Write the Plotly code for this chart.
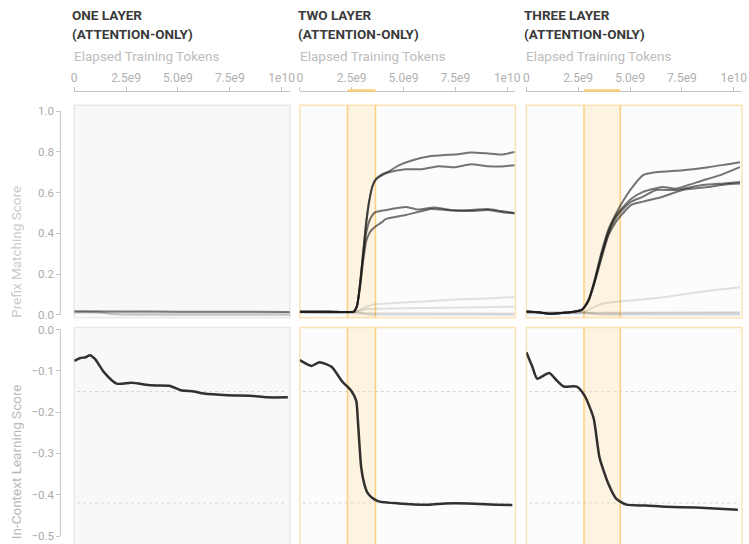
import plotly.graph_objects as go

W, H = 749, 544

# ---------------- data (x in billions of tokens) ----------------
TITLE_LINE1 = ["ONE LAYER", "TWO LAYER", "THREE LAYER"]
TITLE_LINE2 = ["(ATTENTION-ONLY)", "(ATTENTION-ONLY)", "(ATTENTION-ONLY)"]
X_TICKVALS = [0, 2.5e9, 5.0e9, 7.5e9, 1e10]
X_TICKTEXT = ["0", "2.5e9", "5.0e9", "7.5e9", "1e10"]
Y_TOP_TICKVALS = [0, 0.2, 0.4, 0.6, 0.8, 1.0]
Y_TOP_TICKTEXT = ["0.0", "0.2", "0.4", "0.6", "0.8", "1.0"]
Y_BOT_TICKVALS = [0, -0.1, -0.2, -0.3, -0.4, -0.5]
Y_BOT_TICKTEXT = ["0.0", "−0.1", "−0.2", "−0.3", "−0.4", "−0.5"]

# phase-change bands (billions)
BAND_2 = [2.3, 3.65]
BAND_3 = [2.78, 4.53]

# ---- one layer, prefix matching
P1_DARK_X = [0, 2, 4, 6, 8, 10.4]
P1_DARK_Y = [0.017, 0.016, 0.016, 0.015, 0.015, 0.014]
P1_MID_X = [0, 1.2, 1.6, 2.2, 4, 7, 10.4]
P1_MID_Y = [0.013, 0.012, 0.006, 0.001, 0.0, 0.0, 0.0]
P1_FAINT_X = [0, 5, 10.4]
P1_FAINT_Y = [0.01, 0.009, 0.009]

# ---- two layer, prefix matching (induction heads)
P2_RISE_X = [0, 1.0, 2.0, 2.6, 2.75, 2.9, 3.05, 3.2, 3.35, 3.5, 3.67, 3.96]
P2A_Y_RISE = [0.015, 0.015, 0.014, 0.016, 0.04, 0.15, 0.30, 0.45, 0.56, 0.63, 0.667, 0.69]
P2A_X = [4.3, 4.77, 5.4, 6.2, 7.0, 7.5, 8.25, 9.0, 9.7, 10.35]
P2A_Y = [0.705, 0.734, 0.758, 0.778, 0.785, 0.787, 0.797, 0.793, 0.787, 0.80]
P2B_Y_RISE = [0.015, 0.015, 0.014, 0.016, 0.04, 0.15, 0.30, 0.45, 0.56, 0.63, 0.665, 0.685]
P2B_X = [4.3, 5.1, 5.9, 6.68, 7.5, 8.26, 9.07, 9.7, 10.35]
P2B_Y = [0.70, 0.715, 0.715, 0.73, 0.725, 0.739, 0.73, 0.728, 0.734]
P2C_Y_RISE = [0.015, 0.015, 0.014, 0.016, 0.04, 0.14, 0.28, 0.40, 0.46, 0.49, 0.505, 0.512]
P2C_X = [4.3, 5.1, 5.7, 6.5, 7.5, 8.3, 9.07, 9.7, 10.35]
P2C_Y = [0.517, 0.53, 0.517, 0.527, 0.512, 0.515, 0.52, 0.51, 0.50]
P2D_Y_RISE = [0.015, 0.015, 0.014, 0.016, 0.04, 0.13, 0.26, 0.36, 0.40, 0.42, 0.435, 0.455]
P2D_X = [4.14, 5.1, 6.35, 7.0, 7.5, 8.3, 9.07, 9.7, 10.35]
P2D_Y = [0.47, 0.49, 0.52, 0.515, 0.512, 0.51, 0.515, 0.505, 0.498]
P2_F1_X = [0, 2.6, 3.0, 3.5, 4.5, 6, 7.5, 9, 10.35]
P2_F1_Y = [0.012, 0.012, 0.03, 0.05, 0.058, 0.065, 0.075, 0.08, 0.087]
P2_F2_X = [0, 2.6, 3.2, 4, 6, 8, 10.35]
P2_F2_Y = [0.012, 0.012, 0.028, 0.03, 0.033, 0.036, 0.04]
P2_F3_X = [0, 3, 5, 10.35]
P2_F3_Y = [0.01, 0.008, 0.007, 0.006]
P2_F4_X = [0, 2.7, 3.3, 5, 10.35]
P2_F4_Y = [0.015, 0.014, 0.002, 0.0, 0.0]

# ---- three layer, prefix matching
P3_RISE_X = [0, 0.6, 1.1, 1.6, 2.2, 2.67, 3.0, 3.3, 3.63, 3.96, 4.34, 4.67]
P3A_Y_RISE = [0.016, 0.012, 0.005, 0.008, 0.014, 0.024, 0.075, 0.175, 0.31, 0.42, 0.50, 0.56]
P3A_X = [5.06, 5.63, 6.25, 7.54, 8.78, 9.73, 10.3]
P3A_Y = [0.62, 0.686, 0.70, 0.71, 0.725, 0.74, 0.749]
P3B_Y_RISE = [0.016, 0.012, 0.005, 0.008, 0.014, 0.024, 0.072, 0.17, 0.30, 0.41, 0.49, 0.53]
P3B_X = [5.06, 5.63, 6.58, 7.2, 8.5, 9.45, 10.3]
P3B_Y = [0.57, 0.604, 0.628, 0.62, 0.66, 0.69, 0.725]
P3C_Y_RISE = [0.016, 0.012, 0.005, 0.008, 0.014, 0.024, 0.07, 0.165, 0.29, 0.40, 0.48, 0.52]
P3C_X = [5.06, 5.63, 6.25, 7.2, 8.5, 9.5, 10.3]
P3C_Y = [0.556, 0.58, 0.613, 0.613, 0.637, 0.645, 0.652]
P3D_Y_RISE = [0.016, 0.012, 0.005, 0.008, 0.014, 0.024, 0.068, 0.16, 0.28, 0.39, 0.46, 0.50]
P3D_X = [5.06, 5.63, 6.58, 7.54, 8.78, 9.6, 10.3]
P3D_Y = [0.54, 0.556, 0.58, 0.613, 0.628, 0.64, 0.645]
P3_F1_X = [0, 2.7, 3.1, 3.7, 5, 6.5, 7.5, 9, 10.3]
P3_F1_Y = [0.012, 0.012, 0.03, 0.055, 0.07, 0.085, 0.1, 0.12, 0.135]
P3_F2_X = [0, 3, 10.3]
P3_F2_Y = [0.01, 0.01, 0.012]
P3_F3_X = [0, 2.8, 3.4, 5, 10.3]
P3_F3_Y = [0.012, 0.012, 0.003, 0.0, 0.0]
P3_F4_X = [0, 10.3]
P3_F4_Y = [0.006, 0.007]

# ---- in-context learning score
ICL1_X = [0, 0.3, 0.55, 0.76, 1.0, 1.43, 2.05, 2.77, 3.72, 4.58, 5.15, 5.77, 6.25, 7.4, 8.5, 9.3, 10.3]
ICL1_Y = [-0.076, -0.069, -0.067, -0.062, -0.071, -0.103, -0.131, -0.129, -0.135, -0.136, -0.147,
          -0.150, -0.155, -0.159, -0.160, -0.164, -0.164]
ICL2_X = [0, 0.57, 0.95, 1.53, 2.05, 2.48, 2.72, 2.8, 2.96, 3.1, 3.26, 3.5, 3.8, 4.77, 6.2, 7.0, 8.1, 9.5, 10.25]
ICL2_Y = [-0.074, -0.088, -0.079, -0.090, -0.126, -0.148, -0.172, -0.22, -0.333, -0.372, -0.395,
          -0.408, -0.416, -0.421, -0.424, -0.421, -0.421, -0.424, -0.425]
ICL3_X = [0, 0.29, 0.52, 1.1, 1.48, 1.81, 2.43, 2.81, 3.24, 3.53, 3.96, 4.34, 4.82, 5.77, 6.73, 8.16, 10.2]
ICL3_Y = [-0.055, -0.09, -0.119, -0.105, -0.124, -0.138, -0.138, -0.16, -0.214, -0.31, -0.374,
          -0.41, -0.424, -0.426, -0.429, -0.431, -0.436]
ICL_REF_LINES = [-0.15, -0.42]

# ---------------- layout helpers ----------------
def px(x):
    return x / W

def py(y):
    return 1 - y / H

X_DOMAINS = [(px(72), px(290)), (px(300), px(518)), (px(529), px(747))]
TOP_DOM = (py(318), py(102))
BOT_DOM = (0.0, py(328))
X_RANGE = [0, 1.04e10]
TOP_RANGE = [(315 - 318) / 207, (315 - 102) / 207]
BOT_RANGE = [-(544 - 330) / 420, -(328 - 330) / 420]
AXIS_Y = py(87)
YAXIS_X = px(58)

def B(v):
    return [a * 1e9 for a in v]

fig = go.Figure()

DARK = "rgba(25,25,25,0.6)"
FAINT = "rgba(0,0,0,0.11)"

def add(xs, ys, xa, ya, color, width=2.0):
    fig.add_trace(go.Scatter(x=B(xs), y=ys, xaxis=xa, yaxis=ya, mode="lines",
                             line=dict(color=color, width=width, shape="spline", smoothing=0.6),
                             hoverinfo="skip", showlegend=False))

# panel 1 top
add(P1_FAINT_X, P1_FAINT_Y, "x", "y", FAINT)
add(P1_MID_X, P1_MID_Y, "x", "y", "rgba(0,0,0,0.2)")
add(P1_DARK_X, P1_DARK_Y, "x", "y", "rgba(0,0,0,0.5)")
# panel 2 top
for fx, fy in [(P2_F1_X, P2_F1_Y), (P2_F2_X, P2_F2_Y), (P2_F3_X, P2_F3_Y), (P2_F4_X, P2_F4_Y)]:
    add(fx, fy, "x2", "y", FAINT)
for ry, tx, ty in [(P2A_Y_RISE, P2A_X, P2A_Y), (P2B_Y_RISE, P2B_X, P2B_Y),
                   (P2C_Y_RISE, P2C_X, P2C_Y), (P2D_Y_RISE, P2D_X, P2D_Y)]:
    add(P2_RISE_X + tx, ry + ty, "x2", "y", DARK)
# panel 3 top
for fx, fy in [(P3_F1_X, P3_F1_Y), (P3_F2_X, P3_F2_Y), (P3_F3_X, P3_F3_Y), (P3_F4_X, P3_F4_Y)]:
    add(fx, fy, "x3", "y", FAINT)
for ry, tx, ty in [(P3A_Y_RISE, P3A_X, P3A_Y), (P3B_Y_RISE, P3B_X, P3B_Y),
                   (P3C_Y_RISE, P3C_X, P3C_Y), (P3D_Y_RISE, P3D_X, P3D_Y)]:
    add(P3_RISE_X + tx, ry + ty, "x3", "y", DARK)
# bottom row
add(ICL1_X, ICL1_Y, "x", "y2", "rgba(20,20,20,0.88)", 2.5)
add(ICL2_X, ICL2_Y, "x2", "y2", "rgba(20,20,20,0.88)", 2.5)
add(ICL3_X, ICL3_Y, "x3", "y2", "rgba(20,20,20,0.88)", 2.5)

shapes = []
ORANGE_EDGE = "rgba(252,200,110,0.85)"
ORANGE_FILL = "rgba(253,226,175,0.35)"
PANEL_BORDERS = ["#e9e9e9", "rgba(252,214,150,0.7)", "rgba(252,214,150,0.7)"]
PANEL_FILLS = ["#f8f8f8", "#fcfcfc", "#fcfcfc"]
for i, (d0, d1) in enumerate(X_DOMAINS):
    for (y0, y1) in [TOP_DOM, (-0.05, BOT_DOM[1])]:
        shapes.append(dict(type="rect", xref="paper", yref="paper", x0=d0, x1=d1, y0=y0, y1=y1,
                           fillcolor=PANEL_FILLS[i], line=dict(color=PANEL_BORDERS[i], width=1.5),
                           layer="below"))
    for v in ICL_REF_LINES:
        shapes.append(dict(type="line", xref="paper", yref="y2", x0=d0 + 0.004, x1=d1 - 0.004, y0=v, y1=v,
                           line=dict(color="#d6d6d6", width=1, dash="dot"), layer="below"))

for xa, band in [("x2", BAND_2), ("x3", BAND_3)]:
    for ya, (y0, y1) in [("paper", TOP_DOM), ("paper", (-0.05, BOT_DOM[1]))]:
        shapes.append(dict(type="rect", xref=xa, yref=ya, x0=band[0] * 1e9, x1=band[1] * 1e9, y0=y0, y1=y1,
                           fillcolor=ORANGE_FILL, line=dict(width=0), layer="below"))
        for bx in band:
            shapes.append(dict(type="line", xref=xa, yref=ya, x0=bx * 1e9, x1=bx * 1e9, y0=y0, y1=y1,
                               line=dict(color=ORANGE_EDGE, width=1.5), layer="below"))
    shapes.append(dict(type="line", xref=xa, yref="paper", x0=band[0] * 1e9, x1=band[1] * 1e9,
                       y0=AXIS_Y, y1=AXIS_Y, line=dict(color="#fcd07a", width=2.5)))

# y-axis lines spanning data range
shapes.append(dict(type="line", xref="paper", yref="y", x0=YAXIS_X, x1=YAXIS_X, y0=0, y1=1,
                   line=dict(color="#c4c4c4", width=1)))
shapes.append(dict(type="line", xref="paper", yref="y2", x0=YAXIS_X, x1=YAXIS_X, y0=-0.5, y1=0,
                   line=dict(color="#c4c4c4", width=1)))

FONT = "Roboto, Arial, sans-serif"
annotations = []
for i, (d0, d1) in enumerate(X_DOMAINS):
    for txt, yc in [(TITLE_LINE1[i], 10.5), (TITLE_LINE2[i], 29.5)]:
        annotations.append(dict(text="<b>" + txt + "</b>", xref="paper", yref="paper",
                                x=d0 - px(3), y=py(yc), xanchor="left", yanchor="middle", align="left",
                                showarrow=False, borderpad=0,
                                font=dict(family=FONT, size=13.5, color="#3a3a3a")))
    annotations.append(dict(text="Elapsed Training Tokens", xref="paper", yref="paper",
                            x=d0 - px(2), y=py(52), xanchor="left", yanchor="middle", showarrow=False,
                            font=dict(family=FONT, size=13.5, color="#bdbdbd")))
annotations.append(dict(text="Prefix Matching Score", xref="paper", yref="paper", x=px(13), y=py(251),
                        textangle=-90, showarrow=False, xanchor="center", yanchor="middle",
                        font=dict(family=FONT, size=13.5, color="#cbcbcb")))
annotations.append(dict(text="In-Context Learning Score", xref="paper", yref="paper", x=px(13), y=py(464),
                        textangle=-90, showarrow=False, xanchor="center", yanchor="middle",
                        font=dict(family=FONT, size=13.5, color="#b8b8b8")))

layout = dict(width=W, height=H, autosize=False, margin=dict(l=0, r=0, t=0, b=0),
              paper_bgcolor="white", plot_bgcolor="rgba(0,0,0,0)", showlegend=False,
              shapes=shapes, annotations=annotations)

for i, name in enumerate(["xaxis", "xaxis2", "xaxis3"]):
    layout[name] = dict(domain=list(X_DOMAINS[i]), range=X_RANGE, anchor="free", position=AXIS_Y,
                        side="top", showgrid=False, zeroline=False, showline=True, linecolor="#c4c4c4",
                        linewidth=1, ticks="outside", ticklen=4, tickcolor="#c4c4c4",
                        tickvals=X_TICKVALS, ticktext=X_TICKTEXT,
                        tickfont=dict(family=FONT, size=12, color="#b0b0b0"), fixedrange=True)
layout["yaxis"] = dict(domain=list(TOP_DOM), range=TOP_RANGE, anchor="free", position=YAXIS_X,
                       showgrid=False, zeroline=False, showline=False, ticks="outside", ticklen=4,
                       tickcolor="#c4c4c4", tickvals=Y_TOP_TICKVALS, ticktext=Y_TOP_TICKTEXT,
                       tickfont=dict(family=FONT, size=11.5, color="#aaaaaa"))
layout["yaxis2"] = dict(domain=list(BOT_DOM), range=BOT_RANGE, anchor="free", position=YAXIS_X,
                        showgrid=False, zeroline=False, showline=False, ticks="outside", ticklen=4,
                        tickcolor="#c4c4c4", tickvals=Y_BOT_TICKVALS, ticktext=Y_BOT_TICKTEXT,
                        tickfont=dict(family=FONT, size=11.5, color="#aaaaaa"))

fig.update_layout(**layout)
fig.write_html("out.html", config={"displayModeBar": False},
               post_script="document.body.style.margin='0';document.body.style.overflow='hidden';")
